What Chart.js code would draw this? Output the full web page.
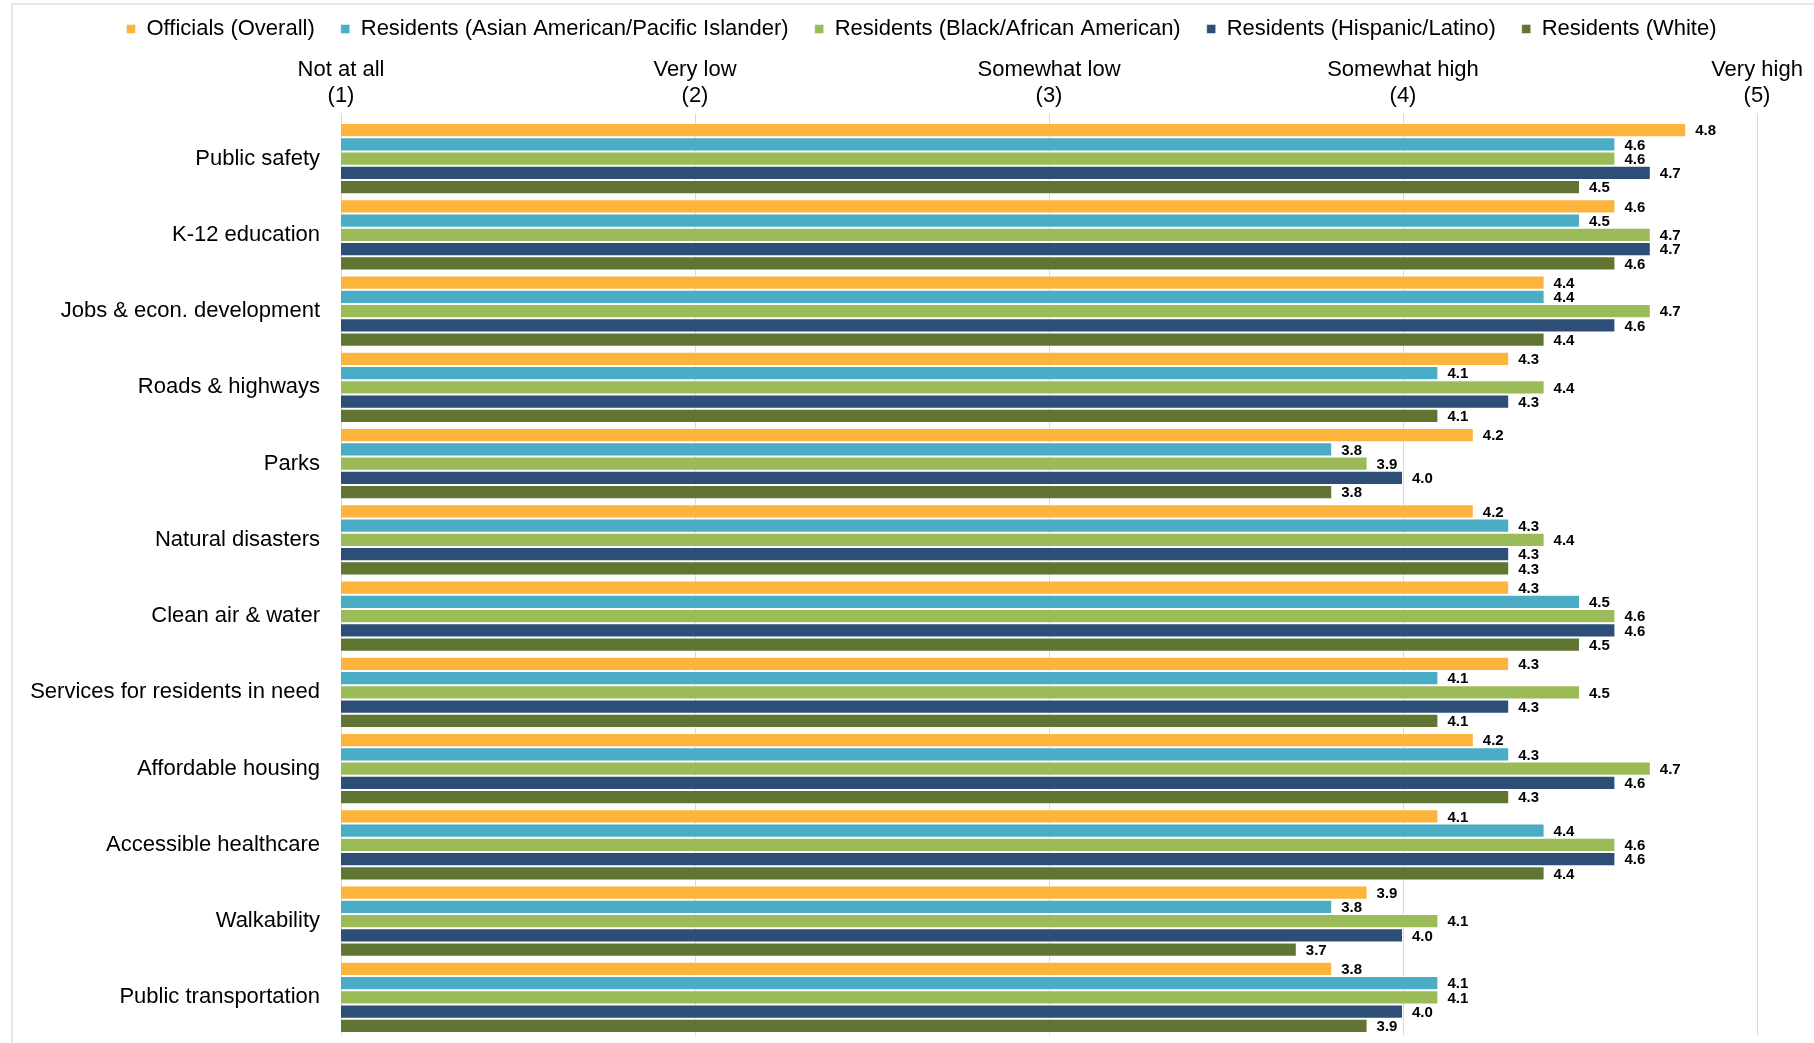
<!DOCTYPE html>
<html>
<head>
<meta charset="utf-8">
<script src="https://cdn.jsdelivr.net/npm/chart.js@4.4.0/dist/chart.umd.min.js"></script>
<style>
  html, body { margin: 0; padding: 0; background: #fff; overflow: hidden; }
  #wrap { position: relative; width: 1814px; height: 1043px; overflow: hidden; }
  #frame { position: absolute; left: 11px; top: 3px; width: 1830px; height: 1100px; border: 2px solid #e6e6e6; box-sizing: border-box; }
  #chart { position: absolute; left: 0; top: 0; }
</style>
</head>
<body>
<div id="wrap">
  <div id="frame"></div>
  <canvas id="chart" width="1814" height="1043"></canvas>
</div>
<script>
// categories (top to bottom)
var categories = [
  'Public safety', 'K-12 education', 'Jobs & econ. development', 'Roads & highways',
  'Parks', 'Natural disasters', 'Clean air & water', 'Services for residents in need',
  'Affordable housing', 'Accessible healthcare', 'Walkability', 'Public transportation'
];

var seriesNames = [
  'Officials (Overall)',
  'Residents (Asian American/Pacific Islander)',
  'Residents (Black/African American)',
  'Residents (Hispanic/Latino)',
  'Residents (White)'
];

var officials = [4.8, 4.6, 4.4, 4.3, 4.2, 4.2, 4.3, 4.3, 4.2, 4.1, 3.9, 3.8];
var asianPI   = [4.6, 4.5, 4.4, 4.1, 3.8, 4.3, 4.5, 4.1, 4.3, 4.4, 3.8, 4.1];
var black     = [4.6, 4.7, 4.7, 4.4, 3.9, 4.4, 4.6, 4.5, 4.7, 4.6, 4.1, 4.1];
var hispanic  = [4.7, 4.7, 4.6, 4.3, 4.0, 4.3, 4.6, 4.3, 4.6, 4.6, 4.0, 4.0];
var white     = [4.5, 4.6, 4.4, 4.1, 3.8, 4.3, 4.5, 4.1, 4.3, 4.4, 3.7, 3.9];

// scale tick labels
var tickValues = [1, 2, 3, 4, 5];
var tickNames = ['Not at all', 'Very low', 'Somewhat low', 'Somewhat high', 'Very high'];

var colors = ['#FDB43C', '#4BACC6', '#9BBB59', '#2C4E77', '#5F7531'];
var allSeries = [officials, asianPI, black, hispanic, white];

Chart.defaults.font.family = '"Liberation Sans", Arial, sans-serif';
Chart.defaults.color = '#000';

// draws the value next to the end of each bar
var valueLabels = {
  id: 'valueLabels',
  afterDatasetsDraw: function(chart) {
    var ctx = chart.ctx;
    ctx.save();
    ctx.font = 'bold 15px "Liberation Sans", Arial, sans-serif';
    ctx.fillStyle = '#000';
    ctx.textBaseline = 'middle';
    ctx.textAlign = 'left';
    chart.data.datasets.forEach(function(ds, i) {
      chart.getDatasetMeta(i).data.forEach(function(bar, j) {
        ctx.fillText(ds.data[j].toFixed(1), bar.x + 9, bar.y + 1);
      });
    });
    ctx.restore();
  }
};

// legend sits a bit right of the plot centre in the original
var legendShift = {
  id: 'legendShift',
  afterLayout: function(chart) {
    chart.legend.left += 43;
    chart.legend.right += 43;
  }
};

var datasets = seriesNames.map(function(name, i) {
  return {
    label: name,
    data: allSeries[i],
    backgroundColor: colors[i],
    borderColor: 'rgba(255,255,255,0.45)',
    borderWidth: 1,
    barPercentage: 1,
    categoryPercentage: 0.934
  };
});

new Chart(document.getElementById('chart').getContext('2d'), {
  type: 'bar',
  data: { labels: categories, datasets: datasets },
  options: {
    indexAxis: 'y',
    responsive: false,
    animation: false,
    layout: { padding: { left: 0, right: 57, top: -8, bottom: 7.5 } },
    plugins: {
      legend: {
        position: 'top',
        labels: { boxWidth: 9, boxHeight: 9, padding: 26, font: { size: 22 } }
      },
      tooltip: { enabled: false }
    },
    scales: {
      x: {
        position: 'top',
        min: 1,
        max: 5,
        ticks: {
          stepSize: 1,
          padding: 4,
          font: { size: 22 },
          callback: function(v) {
            var k = tickValues.indexOf(v);
            return k < 0 ? '' : [tickNames[k], '(' + v + ')'];
          }
        },
        grid: { color: '#d9d9d9', tickLength: 7 },
        border: { display: false },
        afterFit: function(s) { s.height = 70.5; }
      },
      y: {
        ticks: { padding: 21, font: { size: 22 } },
        grid: { display: false, drawTicks: false },
        border: { display: false },
        afterFit: function(s) {
          s.width = 341;
          s.paddingTop = 0;
          s.paddingBottom = 0;
        }
      }
    }
  },
  plugins: [valueLabels, legendShift]
});
</script>
</body>
</html>
